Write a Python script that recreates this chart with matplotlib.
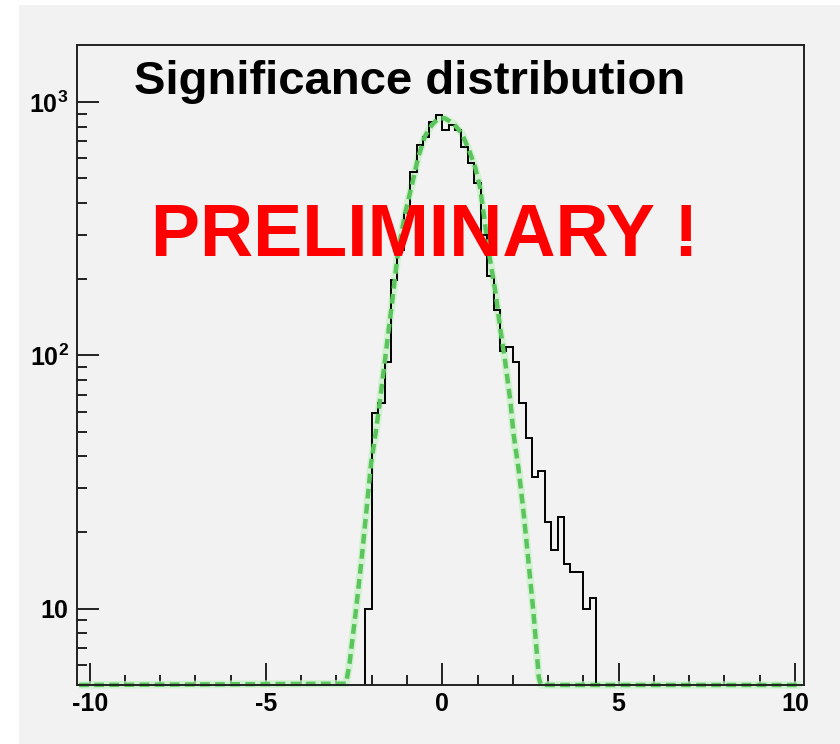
import numpy as np
import matplotlib
matplotlib.use('Agg')
import matplotlib.pyplot as plt
from matplotlib.patches import Rectangle
from matplotlib.ticker import FixedLocator, MultipleLocator, LogLocator, NullFormatter

plt.rcParams['font.family'] = ['Liberation Sans', 'DejaVu Sans']
plt.rcParams['mathtext.fontset'] = 'custom'
plt.rcParams['mathtext.rm'] = 'Liberation Sans:bold'
plt.rcParams['mathtext.bf'] = 'Liberation Sans:bold'

# histogram: 110 bins over [-10, 10], only bins 43..78 are filled
n_bins = 110
hist_lo, hist_hi = -10.0, 10.0
first_bin = 43
counts = [10, 59, 65, 94, 198, 260, 364, 529, 677, 728, 834, 889,
          774, 811, 774, 664, 574, 479, 298, 205, 151, 104, 108, 94,
          65, 47, 33, 35, 22, 17, 23, 15, 14, 14, 10, 11]

# gaussian fit curve
# (ends sit on the frame floor, like ROOT draws a clipped function)
fit_x = [-10.3, -2.73, -2.63, -2.44, -2.30, -2.16, -2.02, -1.87, -1.73, -1.59,
         -1.44, -1.25, -1.04, -0.83, -0.68, -0.50, -0.30, -0.11, 0.07, 0.31,
         0.55, 0.76, 0.93, 1.07, 1.19, 1.31, 1.50, 1.64, 1.78, 1.93,
         2.02, 2.17, 2.31, 2.45, 2.59, 2.74, 2.80, 10.2]
fit_y = [5, 5.06, 6.07, 10.1, 15.1, 23.7, 37.4, 51.5, 72.8, 105,
         155, 260, 370, 492, 608, 729, 811, 863, 863, 824,
         754, 646, 555, 462, 350, 260, 181, 129, 95.5, 66.4,
         49.2, 35.1, 23.7, 15.1, 9.56, 5.33, 5, 5]

x_major = [-10, -5, 0, 5, 10]
x_labels = ['-10', '-5', '0', '5', '10']
y_major = [10, 100, 1000]
y_labels = ['10', r'$\mathbf{10^{2}}$', r'$\mathbf{10^{3}}$']

edges = np.linspace(hist_lo, hist_hi, n_bins + 1)[first_bin:first_bin + len(counts) + 1]
y_floor = 5

bg = '#f2f2f2'
fig = plt.figure(figsize=(8.4, 7.44), dpi=100, facecolor='white')
fig.patches.append(Rectangle((19 / 840, 0), 1, 739 / 744, transform=fig.transFigure,
                             facecolor=bg, edgecolor='none', zorder=-5))

ax = fig.add_axes([77 / 840, 59 / 744, 727 / 840, 640 / 744])
ax.set_facecolor(bg)
ax.set_yscale('log')
ax.set_xlim(-10.36, 10.26)
ax.set_ylim(y_floor, 1680)

ax.stairs(counts, edges, baseline=y_floor, color='black', linewidth=1.4, zorder=3)

# light halo + dashed fit line
ax.plot(fit_x, fit_y, color='#c4f2c4', linewidth=5.5, alpha=0.7, zorder=2, clip_on=False,
        solid_capstyle='butt')
ax.plot(fit_x, fit_y, color='#5cc45c', linewidth=3.2, dashes=(2.2, 1.2), zorder=4,
        clip_on=False)

for s in ax.spines.values():
    s.set_linewidth(1.4)
    s.set_color('#222222')
    s.set_zorder(5)

ax.xaxis.set_major_locator(FixedLocator(x_major))
ax.set_xticklabels(x_labels)
ax.xaxis.set_minor_locator(MultipleLocator(1))
ax.yaxis.set_major_locator(FixedLocator(y_major))
ax.set_yticklabels(y_labels)
ax.yaxis.set_minor_locator(LogLocator(base=10, subs=np.arange(2, 10)))
ax.yaxis.set_minor_formatter(NullFormatter())

ax.tick_params(which='both', direction='in', top=False, right=False, width=1.4,
               color='#222222')
ax.tick_params(which='major', length=15.5)
ax.tick_params(which='minor', length=7.5)
ax.tick_params(axis='x', which='major', pad=5)
ax.tick_params(axis='y', which='major', pad=6)
for lab in ax.get_xticklabels() + ax.get_yticklabels():
    lab.set_fontweight('bold')
    lab.set_fontsize(18)

fig.text(410 / 840, 1 - 94 / 744, 'Significance distribution', ha='center', va='baseline',
         fontsize=34, fontweight='bold', color='black')
fig.text(425 / 840, 1 - 256 / 744, 'PRELIMINARY !', ha='center', va='baseline',
         fontsize=53, fontweight='bold', color='#ff0000', zorder=10)

fig.savefig('out.png', dpi=100, facecolor=fig.get_facecolor())
